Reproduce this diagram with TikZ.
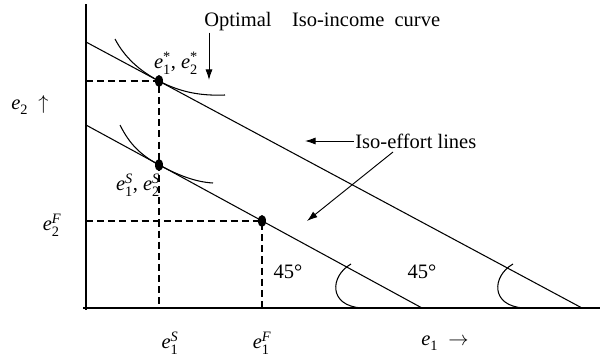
\documentclass[tikz,border=0pt]{standalone}
\usepackage{amsmath}
\usepackage{fontspec}
\setmainfont{Liberation Serif}
\usetikzlibrary{arrows.meta,shapes.geometric}
\newcommand{\ev}[2]{$\textit{e}_{\textrm{#1}}^{#2}$}

\begin{document}
\begin{tikzpicture}[x=0.03cm, y=-0.03cm,
    every node/.style={font=\fontsize{17.5}{20}\selectfont, inner sep=1pt},
    axis/.style={line width=1.2pt},
    effline/.style={line width=0.9pt},
    guide/.style={line width=0.9pt, dash pattern=on 6pt off 3.5pt},
    dot/.style={ellipse, fill, inner sep=0pt, minimum width=0.24cm, minimum height=0.36cm},
    arr/.style={line width=0.8pt, -{Latex[length=9pt,width=6pt]}}]
  \useasboundingbox (0,0) rectangle (605,361);

  % Axes
  \coordinate (O) at (86,308);
  \draw[axis] (86,4) -- (86,310);
  \draw[axis] (83,308) -- (600,308);

  % Iso-effort lines
  \coordinate (hiA) at (86,42);
  \coordinate (hiB) at (582,308);
  \coordinate (loA) at (86,125);
  \coordinate (loB) at (422,308);
  \draw[effline] (hiA) -- (hiB);
  \draw[effline] (loA) -- (loB);

  % Equilibrium points
  \coordinate (pOpt) at (159,81);
  \coordinate (pSec) at (159,165);
  \coordinate (pFst) at (262,221);
  \draw[guide] (O |- pOpt) -- (pOpt) -- (pOpt |- O);
  \draw[guide] (O |- pFst) -- (pFst) -- (pFst |- O);
  \node[dot] (opt) at (pOpt) {};
  \node[dot] (sec) at (pSec) {};
  \node[dot] (fst) at (pFst) {};

  % Iso-income curves
  \draw[effline] (115,39) .. controls (125,58) and (140,71) .. (opt.center)
    .. controls (180,92) and (200,96) .. (225,95);
  \draw[effline] (120,125) .. controls (130,145) and (141,155) .. (sec.center)
    .. controls (178,175) and (195,182) .. (213,183);

  % 45 degree marks
  \foreach \sx in {348,510}
    \draw[effline] (\sx+3,264) .. controls (\sx-18,276) and (\sx-20,306) .. (\sx+14,308);
  \node (angLo) at (288,272) {45°};
  \node (angHi) at (422,272) {45°};

  % Labels
  \node (lblY) at (30,105) {\ev{2}{}\ \ $\uparrow$};
  \node (lblE2F) at (52,225) {\ev{2}{\textit{F}}};
  \node (lblE1S) at (170,343) {\ev{1}{\textit{S}}};
  \node (lblE1F) at (262,343) {\ev{1}{\textit{F}}};
  \node (lblX) at (445,343) {\ev{1}{}\ \ $\rightarrow$};
  \node (lblOptPt) at (176,63) {\ev{1}{\textrm{*}}, \ev{2}{\textrm{*}}};
  \node (lblSecPt) at (138,185) {\ev{1}{\textit{S}}, \ev{2}{\textit{S}}};

  % Callouts
  \node (lblOpt) [anchor=west] at (203,22) {Optimal\quad Iso-income\ \ curve};
  \coordinate (optTip) at (209,80);
  \draw[arr] (optTip |- lblOpt.south) -- (optTip);
  \node (lblEff) [anchor=west] at (354,141) {Iso-effort lines};
  \coordinate (effTipA) at (305,141);
  \coordinate (effTail) at (393,152);
  \coordinate (effTipB) at (307,221);
  \draw[arr] (lblEff.west) -- (effTipA);
  \draw[arr] (effTail) -- (effTipB);
\end{tikzpicture}
\end{document}
